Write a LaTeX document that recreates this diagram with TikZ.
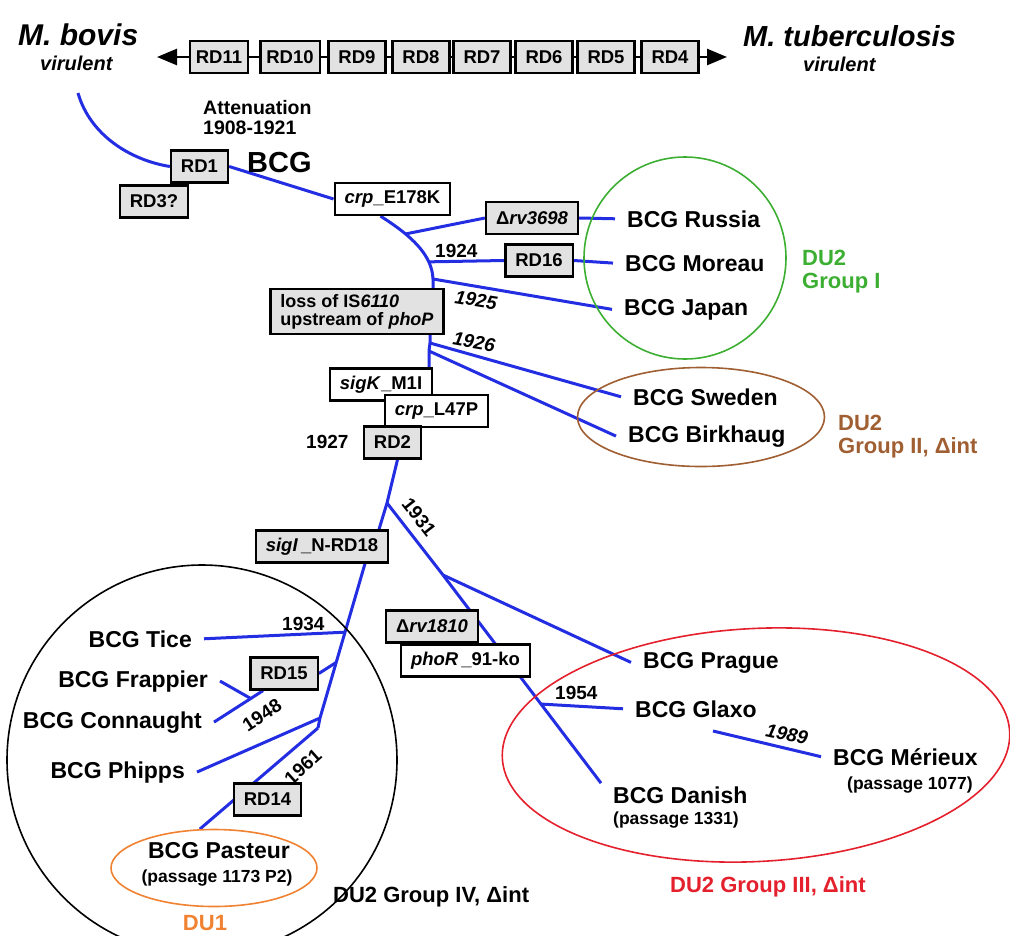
\documentclass[tikz,border=0pt]{standalone}
\usepackage{fontspec}
\setmainfont{Liberation Sans}
\usetikzlibrary{arrows.meta,shapes.geometric,backgrounds,calc}
\definecolor{bcgblue}{RGB}{35,45,225}
\definecolor{boxgray}{RGB}{226,226,226}
\definecolor{duone}{RGB}{240,130,50}
\definecolor{dugreen}{RGB}{60,175,50}
\definecolor{dubrown}{RGB}{160,95,50}
\definecolor{dured}{RGB}{228,32,45}

\begin{document}
\begin{tikzpicture}[x=1pt, y=-1pt,
    box/.style={draw, line width=2.3pt, fill=boxgray, inner xsep=10pt, inner ysep=0pt,
      minimum height=32pt, font=\fontsize{18.5}{19}\selectfont\bfseries},
    wbox/.style={box, fill=white},
    strain/.style={inner xsep=12pt, inner ysep=3pt, font=\fontsize{23}{26}\selectfont\bfseries},
    passage/.style={inner sep=0pt, font=\fontsize{17.5}{18}\selectfont\bfseries},
    yr/.style={inner sep=0pt, font=\fontsize{19}{20}\selectfont\bfseries},
    grp/.style={inner sep=0pt, align=left, font=\fontsize{22}{23}\selectfont\bfseries},
    branch/.style={draw=bcgblue, line width=3pt},
    ring/.style={draw, line width=1.6pt, inner sep=0pt}]

    \useasboundingbox (0,0) rectangle (1010,935);
    \clip (0,0) rectangle (1010,935);

    % Species and regions of difference
    \node[anchor=base west, inner sep=0pt, font=\fontsize{30}{32}\selectfont\bfseries\itshape] (bovis) at (18,45) {M. bovis};
    \node[anchor=base west, inner sep=0pt, font=\fontsize{20}{22}\selectfont\bfseries\itshape] (bovisV) at (40,70) {virulent};
    \node[anchor=base west, inner sep=0pt, font=\fontsize{29}{32}\selectfont\bfseries\itshape] (tb) at (743,46) {M. tuberculosis};
    \node[anchor=base west, inner sep=0pt, font=\fontsize{20}{22}\selectfont\bfseries\itshape] (tbV) at (803,71) {virulent};
    \coordinate (axisL) at (157,57);
    \coordinate (axisR) at (727,57);
    \draw[line width=2.6pt, {Triangle[length=20pt,width=16pt]}-{Triangle[length=20pt,width=16pt]}] (axisL) -- (axisR);
    \foreach \n/\x in {11/219,10/290,9/357,8/421,7/482,6/544,5/606,4/670} {
        \node[box, inner xsep=6pt, minimum width=57pt] (rd\n) at (\x,57) {RD\n};
    }

    % Attenuation
    \node[anchor=north west, inner sep=0pt, align=left, font=\fontsize{19.5}{20}\selectfont\bfseries] (atten) at (203,100) {Attenuation\\1908-1921};
    \node[anchor=base west, inner sep=0pt, font=\fontsize{29}{32}\selectfont\bfseries] (bcg) at (247,172) {BCG};

    % Group rings
    \node[ring, circle, draw=dugreen, minimum size=202pt] (du2a) at (685,258) {};
    \node[ring, ellipse, draw=dubrown, minimum width=247pt, minimum height=99pt] (du2b) at (701,417) {};
    \node[ring, ellipse, draw=dured, minimum width=508pt, minimum height=233pt, rotate=3] (du2c) at (756,745) {};
    \node[ring, circle, draw=black, minimum size=390pt] (du2d) at (202,760) {};
    \node[ring, ellipse, draw=duone, minimum width=206pt, minimum height=77pt] (du1) at (214,868) {};

    % Mutation boxes
    \node[box] (RD3) at (154,201.5) {RD3?};
    \node[box] (RD1) at (199.5,166.5) {RD1};
    \node[wbox] (crpE) at (392.5,199) {\textit{crp}\_E178K};
    \node[box] (rv3698) at (532,218) {Δ\textit{rv3698}};
    \node[box] (RD16) at (539,260.5) {RD16};
    \node[box, align=left, inner ysep=5pt, font=\fontsize{18}{18}\selectfont\bfseries] (loss) at (357,311.5) {loss of IS\textit{6110}\\upstream of \textit{phoP}};
    \node[wbox] (sigK) at (381,384.5) {\textit{sigK}\_M1I};
    \node[wbox] (crpL) at (436.5,411) {\textit{crp}\_L47P};
    \node[box] (RD2) at (392.5,442.5) {RD2};
    \node[box] (sigI) at (322,546.5) {\textit{sigI}\,\_N-RD18};
    \node[box] (rv1810) at (432,626.5) {Δ\textit{rv1810}};
    \node[wbox] (phoR) at (465.5,660.5) {\textit{phoR}\,\_91-ko};
    \node[box] (RD15) at (284,673.5) {RD15};
    \node[box] (RD14) at (267.5,799.5) {RD14};

    % Strains
    \node[strain, anchor=base west] (russia) at (615,227) {BCG Russia};
    \node[strain, anchor=base west] (moreau) at (613,271) {BCG Moreau};
    \node[strain, anchor=base west] (japan) at (612,315) {BCG Japan};
    \node[strain, anchor=base west] (sweden) at (621,405) {BCG Sweden};
    \node[strain, anchor=base west] (birkhaug) at (616,442) {BCG Birkhaug};
    \node[strain, anchor=base west] (prague) at (631,668) {BCG Prague};
    \node[strain, anchor=base west] (glaxo) at (623,717) {BCG Glaxo};
    \node[strain, anchor=base west] (merieux) at (821,765) {BCG Mérieux};
    \node[strain, anchor=base west] (danish) at (601,803) {BCG Danish};
    \node[strain, anchor=base east] (tice) at (204,647) {BCG Tice};
    \node[strain, anchor=base east] (frappier) at (220,687) {BCG Frappier};
    \node[strain, anchor=base east] (connaught) at (214,728) {BCG Connaught};
    \node[strain, anchor=base east] (phipps) at (197,778) {BCG Phipps};
    \node[strain, anchor=base] (pasteur) at (219,858) {BCG Pasteur};
    \node[passage, anchor=base west] (merieuxP) at (847,789) {(passage 1077)};
    \node[passage, anchor=base west] (danishP) at (613,824) {(passage 1331)};
    \node[passage, anchor=base] (pasteurP) at (217,882) {(passage 1173 P2)};

    % Group labels
    \node[grp, anchor=north west, text=dugreen] (du2aL) at (802,250) {DU2\\Group I};
    \node[grp, anchor=north west, text=dubrown] (du2bL) at (838,415) {DU2\\Group II, Δint};
    \node[grp, anchor=base west, text=dured] (du2cL) at (670,892) {DU2 Group III, Δint};
    \node[grp, anchor=base west] (du2dL) at (333,902) {DU2 Group IV, Δint};
    \node[grp, anchor=base, text=duone] (du1L) at (205,930) {DU1};

    % Years
    \node[yr, anchor=base west] (y1924) at (435,257) {1924};
    \node[yr, font=\fontsize{19}{20}\selectfont\bfseries\itshape, rotate=-9] (y1925) at (476,300) {1925};
    \node[yr, font=\fontsize{19}{20}\selectfont\bfseries\itshape, rotate=-10] (y1926) at (474,342) {1926};
    \node[yr, anchor=base west] (y1927) at (306,448) {1927};
    \node[yr, rotate=-52] (y1931) at (419,517) {1931};
    \node[yr, anchor=base west] (y1934) at (282,630) {1934};
    \node[yr, rotate=33] (y1948) at (262,715) {1948};
    \node[yr, anchor=base west] (y1954) at (555,699) {1954};
    \node[yr, rotate=42] (y1961) at (303,767) {1961};
    \node[yr, font=\fontsize{19}{20}\selectfont\bfseries\itshape, rotate=-12] (y1989) at (787,734) {1989};

    % Branch points
    \coordinate (bovistail) at (78,93);
    \coordinate (jC) at (433,279);
    \coordinate (jD) at (430,343);
    \coordinate (jE) at (429,351);
    \coordinate (jF) at (387,503);
    \coordinate (jG) at (443,575);
    \coordinate (jK) at (320,718);
    \coordinate (jL) at (318,728);
    \coordinate (merieuxtail) at (713,731);

    % Tree
    \begin{scope}[on background layer]
        \draw[branch] (bovistail) .. controls (90,135) and (130,160) .. (RD1.west);
        \draw[branch] (RD1.east) -- (crpE.west);
        \draw[branch] ([xshift=-12pt]crpE.south) .. controls (412,236) and (432,255) .. (jC)
            coordinate[pos=0.3] (jA) coordinate[pos=0.75] (jB) -- (jC |- loss.north);
        \draw[branch] (jA) -- (rv3698.west);
        \draw[branch] (rv3698.east) -- (russia.west);
        \draw[branch] (jB) -- (RD16.west);
        \draw[branch] (RD16.east) -- (moreau.west);
        \draw[branch] (jC) -- (japan.west);
        \draw[branch] (jD |- loss.south) -- (jD) -- (jE) -- (jE |- sigK.north);
        \draw[branch] (jD) -- (sweden.west);
        \draw[branch] (jE) -- (birkhaug.west);
        \draw[branch] ([xshift=5pt]RD2.south) -- (jF) -- ([xshift=57pt]sigI.north);
        \draw[branch] (jF) -- (jG);
        \draw[branch] (jG) -- (prague.west);
        \draw[branch] (jG) -- (danish.north west) coordinate[pos=0.62] (jH);
        \draw[branch] (jH) -- (glaxo.west);
        \draw[branch] (merieuxtail) -- (merieux.west);
        \draw[branch] ([xshift=43pt]sigI.south) -- (jK)
            coordinate[pos=0.444] (jI) coordinate[pos=0.64] (jJ) -- (jL);
        \draw[branch] (jI) -- (tice.east);
        \draw[branch] (jJ) -- (RD15.east);
        \draw[branch] ([xshift=-21pt]RD15.south) -- (connaught.east) coordinate[pos=0.25] (jM);
        \draw[branch] (frappier.east) -- (jM);
        \draw[branch] (jK) -- (phipps.east);
        \draw[branch] (jL) -- (du1.110);
    \end{scope}
\end{tikzpicture}
\end{document}
